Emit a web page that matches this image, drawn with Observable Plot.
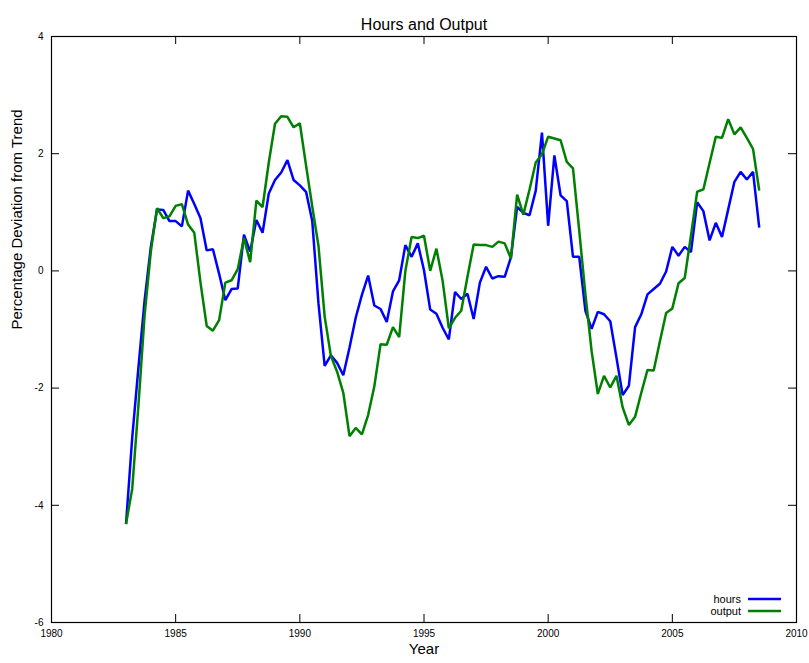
<!DOCTYPE html>
<html>
<head>
<meta charset="utf-8">
<script src="https://cdn.jsdelivr.net/npm/d3@7"></script>
<script src="https://cdn.jsdelivr.net/npm/@observablehq/plot@0.6"></script>
<style>
  html, body { margin: 0; padding: 0; background: white; }
</style>
</head>
<body>
<div id="chart"></div>
<script>
// Quarterly series, starting 1983 Q1
const startYear = 1983;
const seriesNames = ["hours", "output"];
const seriesColors = ["#0000ff", "#008000"];

const hours = [
  -4.32, -2.85, -1.65, -0.50,
   0.41,  1.05,  1.04,  0.85,
   0.85,  0.76,  1.37,  1.14,
   0.90,  0.35,  0.37, -0.05,
  -0.50, -0.31, -0.30,  0.62,
   0.33,  0.87,  0.65,  1.32,
   1.55,  1.68,  1.89,  1.55,
   1.46,  1.35,  0.85, -0.55,
  -1.62, -1.44, -1.57, -1.78,
  -1.31, -0.80, -0.41, -0.08,
  -0.59, -0.65, -0.87, -0.35,
  -0.16,  0.44,  0.24,  0.47,
   0.01, -0.66, -0.73, -0.97,
  -1.17, -0.36, -0.48, -0.39,
  -0.82, -0.20,  0.07, -0.13,
  -0.09, -0.10,  0.23,  1.09,
   0.99,  0.95,  1.37,  2.36,
   0.77,  1.97,  1.29,  1.19,
   0.24,  0.24, -0.68, -0.99,
  -0.70, -0.74, -0.86, -1.48,
  -2.12, -1.96, -0.96, -0.74,
  -0.40, -0.31, -0.22, -0.01,
   0.41,  0.26,  0.41,  0.32,
   1.17,  1.02,  0.52,  0.82,
   0.58,  1.05,  1.52,  1.69,
   1.56,  1.69,  0.74
];

const output = [
  -4.32, -3.72, -2.30, -0.75,
   0.33,  1.07,  0.90,  0.93,
   1.11,  1.14,  0.79,  0.65,
  -0.20, -0.94, -1.02, -0.84,
  -0.20, -0.16,  0.03,  0.56,
   0.15,  1.20,  1.09,  1.85,
   2.51,  2.64,  2.63,  2.45,
   2.52,  1.80,  1.10,  0.43,
  -0.78, -1.45, -1.72, -2.08,
  -2.82, -2.68, -2.79, -2.46,
  -1.97, -1.25, -1.26, -0.96,
  -1.13,  0.00,  0.58,  0.56,
   0.60,  0.00,  0.38, -0.17,
  -0.98, -0.80, -0.68, -0.10,
   0.45,  0.44,  0.44,  0.41,
   0.50,  0.47,  0.21,  1.30,
   0.96,  1.39,  1.85,  1.99,
   2.29,  2.26,  2.23,  1.86,
   1.75,  0.69, -0.40, -1.37,
  -2.10, -1.79, -1.99, -1.79,
  -2.33, -2.63, -2.49, -2.08,
  -1.69, -1.70, -1.20, -0.72,
  -0.64, -0.21, -0.12,  0.60,
   1.35,  1.39,  1.84,  2.29,
   2.27,  2.59,  2.33,  2.45,
   2.27,  2.08,  1.37
];

const xTicks = [1980, 1985, 1990, 1995, 2000, 2005, 2010];
const yTicks = [-6, -4, -2, 0, 2, 4];
const titleText = "Hours and Output";
const xLabel = "Year";
const yLabel = "Percentage Deviation from Trend";

const seriesValues = [hours, output];
const data = [];
seriesValues.forEach((vals, s) => {
  vals.forEach((v, i) => data.push({ year: startYear + i / 4, value: v, series: seriesNames[s] }));
});

const W = 809, H = 663;
const mTop = 36, mBottom = 41, mLeft = 51, mRight = 13;
const frameH = H - mTop - mBottom;
const frameW = W - mLeft - mRight;
const tickLen = 8;

const fmt = d => String(d);

const chart = Plot.plot({
  width: W,
  height: H,
  marginTop: mTop,
  marginBottom: mBottom,
  marginLeft: mLeft,
  marginRight: mRight,
  style: { fontFamily: "'Liberation Sans', Arial, sans-serif", fontSize: "10px", background: "white", color: "black" },
  x: { domain: [1980, 2010] },
  y: { domain: [-6, 4] },
  color: { domain: seriesNames, range: seriesColors },
  marks: [
    // inward ticks (bottom/top/left/right)
    Plot.tickX(xTicks, { x: d => d, insetTop: frameH - tickLen, stroke: "black", strokeWidth: 1 }),
    Plot.tickX(xTicks, { x: d => d, insetBottom: frameH - tickLen, stroke: "black", strokeWidth: 1 }),
    Plot.tickY(yTicks, { y: d => d, insetRight: frameW - tickLen, stroke: "black", strokeWidth: 1 }),
    Plot.tickY(yTicks, { y: d => d, insetLeft: frameW - tickLen, stroke: "black", strokeWidth: 1 }),
    Plot.axisX(xTicks, { tickSize: 0, tickPadding: 7, tickFormat: fmt, label: null, fontSize: 10 }),
    Plot.axisY(yTicks, { tickSize: 0, tickPadding: 8, tickFormat: fmt, label: null, fontSize: 10 }),
    Plot.line(data, { x: "year", y: "value", z: "series", stroke: "series", strokeWidth: 2.5, strokeLinejoin: "miter", strokeLinecap: "butt" }),
    Plot.frame({ stroke: "black", strokeWidth: 1.2 }),
    Plot.text([titleText], { text: d => d, frameAnchor: "top", dy: -18, fontSize: 16 }),
    Plot.text([xLabel], { text: d => d, frameAnchor: "bottom", dy: 31, fontSize: 15 }),
    Plot.text([yLabel], { text: d => d, frameAnchor: "left", dx: -34, rotate: -90, fontSize: 15 })
  ]
});

// legend inside the plot, bottom-right
const svg = d3.select(chart);
const lg = svg.append("g").attr("font-family", "'Liberation Sans', Arial, sans-serif").attr("font-size", 11);
const legendRight = W - mRight;
const legendBottom = H - mBottom;
seriesNames.forEach((name, i) => {
  const cy = legendBottom - 23 + i * 12;
  lg.append("text")
    .attr("x", legendRight - 55)
    .attr("y", cy)
    .attr("dy", "0.35em")
    .attr("text-anchor", "end")
    .text(name);
  lg.append("line")
    .attr("x1", legendRight - 48)
    .attr("x2", legendRight - 15)
    .attr("y1", cy)
    .attr("y2", cy)
    .attr("stroke", seriesColors[i])
    .attr("stroke-width", 2.5);
});

document.getElementById("chart").appendChild(chart);
</script>
</body>
</html>
